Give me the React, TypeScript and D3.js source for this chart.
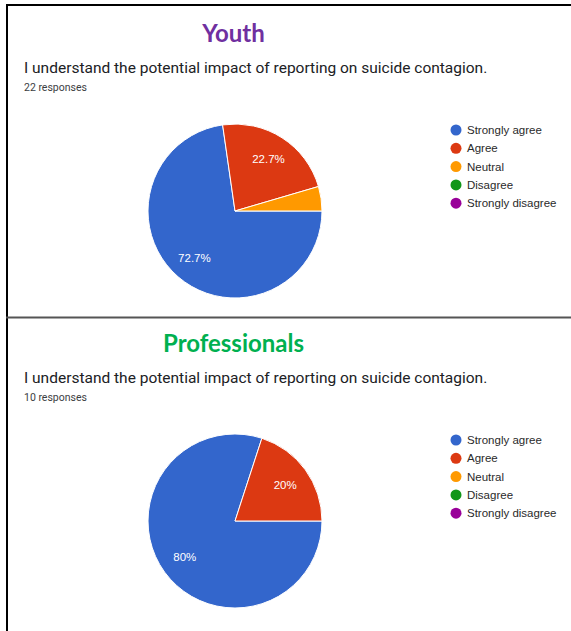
import React from "react";
import * as d3 from "d3";

const categories = ["Strongly agree", "Agree", "Neutral", "Disagree", "Strongly disagree"];
const colors = ["#3366cc", "#dc3912", "#ff9900", "#109618", "#990099"];
const youthValues = [16, 5, 1, 0, 0];
const proValues = [8, 2, 0, 0, 0];
const question = "I understand the potential impact of reporting on suicide contagion.";

const W = 571;
const H = 631;

type PanelProps = { title: string; titleColor: string; values: number[]; y0: number };

function Panel({ title, titleColor, values, y0 }: PanelProps) {
  const total = d3.sum(values);
  const pie = d3
    .pie<number>()
    .sort(null)
    .value((d) => d)
    .startAngle(Math.PI / 2)
    .endAngle(Math.PI / 2 + 2 * Math.PI);
  const arcs = pie(values);
  const r = 87;
  const cx = 235;
  const cy = y0 + 211;
  const arc = d3.arc<d3.PieArcDatum<number>>().innerRadius(0).outerRadius(r);
  const labelArc = d3.arc<d3.PieArcDatum<number>>().innerRadius(124).outerRadius(0);
  const fmt = (v: number) => {
    const p = (v / total) * 100;
    return Number.isInteger(Math.round(p * 10) / 10) ? `${Math.round(p)}%` : `${p.toFixed(1)}%`;
  };
  return (
    <g>
      <text
        x={233.5}
        y={y0 + 41.5}
        textAnchor="middle"
        fontFamily="Lato, 'Open Sans', sans-serif"
        fontWeight={700}
        fontSize={24}
        fill={titleColor}
      >
        {title}
      </text>
      <text x={24} y={y0 + 72.5} fontFamily="Roboto, sans-serif" fontSize={15.5} fill="#202124">
        {question}
      </text>
      <text x={24} y={y0 + 90.7} fontFamily="Roboto, sans-serif" fontSize={10.5} fill="#3c4043">
        {`${total} responses`}
      </text>
      <g transform={`translate(${cx},${cy})`}>
        {arcs.map((a, i) =>
          a.value > 0 ? (
            <path key={i} d={arc(a) || ""} fill={colors[i]} stroke="#ffffff" strokeWidth={1} />
          ) : null
        )}
        {arcs.map((a, i) => {
          if (a.value / total < 0.1) return null;
          const [lx, ly] = labelArc.centroid(a);
          return (
            <text
              key={"l" + i}
              x={lx}
              y={ly}
              dy="0.35em"
              textAnchor="middle"
              fontFamily="'Liberation Sans', Arial, sans-serif"
              fontSize={11.5}
              fill="#ffffff"
            >
              {fmt(a.value)}
            </text>
          );
        })}
      </g>
      <g transform={`translate(456,${y0 + 130})`}>
        {categories.map((c, i) => (
          <g key={c} transform={`translate(0,${i * 18.3})`}>
            <circle r={5.5} fill={colors[i]} />
            <text
              x={11}
              dy="0.35em"
              fontFamily="'Liberation Sans', Arial, sans-serif"
              fontSize={11.5}
              fill="#2a2a2a"
            >
              {c}
            </text>
          </g>
        ))}
      </g>
    </g>
  );
}

export default function App() {
  return (
    <svg
      width={W}
      height={H}
      style={{ position: "absolute", left: 0, top: 0, background: "#ffffff" }}
    >
      <rect width={W} height={H} fill="#ffffff" />
      <Panel title="Youth" titleColor="#7030a0" values={youthValues} y0={0} />
      <Panel title="Professionals" titleColor="#00b050" values={proValues} y0={310} />
      <line x1={6} x2={571} y1={5} y2={5} stroke="#000" strokeWidth={2} />
      <line x1={7} x2={7} y1={4} y2={631} stroke="#000" strokeWidth={2} />
      <line x1={6} x2={571} y1={317.5} y2={317.5} stroke="#555" strokeWidth={2} />
    </svg>
  );
}
